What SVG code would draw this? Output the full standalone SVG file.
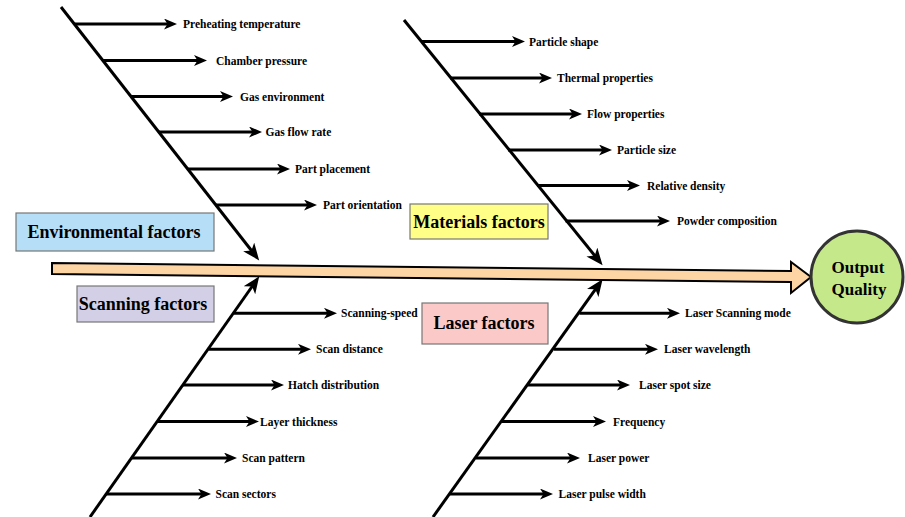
<svg xmlns="http://www.w3.org/2000/svg" width="905" height="517" viewBox="0 0 905 517">
<defs>
<marker id="ah" markerUnits="userSpaceOnUse" markerWidth="14" markerHeight="12" refX="5" refY="5.5" orient="auto">
<path d="M0,0 L13,5.5 L0,11 L3.5,5.5 z" fill="#000"/>
</marker>
<marker id="ahb" markerUnits="userSpaceOnUse" markerWidth="18" markerHeight="14" refX="7" refY="7" orient="auto">
<path d="M0,0 L17,7 L0,14 L4.5,7 z" fill="#000"/>
</marker>
</defs>
<style>
.sub{stroke:#000;stroke-width:3;fill:none;marker-end:url(#ah)}
.bone{stroke:#000;stroke-width:3;fill:none;marker-end:url(#ahb)}
.lbl{font-family:"Liberation Serif","Times New Roman",serif;font-weight:bold;font-size:11.5px;fill:#000}
.cat{font-family:"Liberation Serif","Times New Roman",serif;font-weight:bold;font-size:18px;fill:#000;text-anchor:middle}
.out{font-family:"Liberation Serif","Times New Roman",serif;font-weight:bold;font-size:17px;fill:#000;text-anchor:middle}
.box{stroke:#777;stroke-width:1.2}
</style>
<rect width="905" height="517" fill="#fff"/>

<g id="spine">
<path d="M52,263 L791,271 L791,262 L811,277 L791,293 L791,282 L52,274 Z" fill="#fdd5a5" stroke="#000" stroke-width="2" stroke-linejoin="miter"/>
</g>

<g id="output">
<circle cx="857" cy="277" r="46" fill="#c5e88a" stroke="#333" stroke-width="3"/>
<text class="out" x="858" y="273">Output</text>
<text class="out" x="859" y="295">Quality</text>
</g>

<g id="connectors">
<line class="bone" x1="61" y1="7" x2="253" y2="252.5"/>
<line class="bone" x1="404" y1="20" x2="596.3" y2="257.5"/>
<line class="bone" x1="90" y1="517" x2="253.5" y2="284.5"/>
<line class="bone" x1="433" y1="517" x2="596.8" y2="287.3"/>

<line class="sub" x1="74.5" y1="24" x2="169" y2="24"/>
<line class="sub" x1="102.5" y1="60.5" x2="199" y2="60.5"/>
<line class="sub" x1="130.5" y1="96.5" x2="225" y2="96.5"/>
<line class="sub" x1="158.5" y1="132" x2="254" y2="132"/>
<line class="sub" x1="187.5" y1="169" x2="282" y2="169"/>
<line class="sub" x1="215.5" y1="205" x2="309" y2="205"/>

<line class="sub" x1="421" y1="41.5" x2="517" y2="41.5"/>
<line class="sub" x1="450" y1="78" x2="544" y2="78"/>
<line class="sub" x1="479" y1="114" x2="574" y2="114"/>
<line class="sub" x1="508" y1="150" x2="604" y2="150"/>
<line class="sub" x1="537" y1="185.5" x2="632" y2="185.5"/>
<line class="sub" x1="565.5" y1="221" x2="662" y2="221"/>

<line class="sub" x1="234" y1="313.3" x2="329" y2="313.3"/>
<line class="sub" x1="208.5" y1="349.3" x2="303" y2="349.3"/>
<line class="sub" x1="183" y1="385" x2="276" y2="385"/>
<line class="sub" x1="157.5" y1="421.5" x2="251" y2="421.5"/>
<line class="sub" x1="131.5" y1="458" x2="229" y2="458"/>
<line class="sub" x1="106" y1="494" x2="203" y2="494"/>

<line class="sub" x1="579.5" y1="313.3" x2="672" y2="313.3"/>
<line class="sub" x1="554" y1="349.3" x2="650" y2="349.3"/>
<line class="sub" x1="528" y1="385" x2="622" y2="385"/>
<line class="sub" x1="502" y1="421.5" x2="598" y2="421.5"/>
<line class="sub" x1="476" y1="458" x2="572" y2="458"/>
<line class="sub" x1="450" y1="494" x2="545" y2="494"/>
</g>

<g id="environmental">
<rect class="box" x="16" y="213" width="198" height="38" fill="#b6def6"/>
<text class="cat" x="114" y="238">Environmental factors</text>
<text class="lbl" x="183" y="28">Preheating temperature</text>
<text class="lbl" x="216" y="64.5">Chamber pressure</text>
<text class="lbl" x="240" y="100.5">Gas environment</text>
<text class="lbl" x="265.5" y="136">Gas flow rate</text>
<text class="lbl" x="295" y="173">Part placement</text>
<text class="lbl" x="323" y="209">Part orientation</text>
</g>

<g id="materials">
<rect class="box" x="410" y="204" width="138" height="35" fill="#ffff88"/>
<text class="cat" x="479" y="227.5">Materials factors</text>
<text class="lbl" x="529" y="45.5">Particle shape</text>
<text class="lbl" x="557" y="82">Thermal properties</text>
<text class="lbl" x="587" y="118">Flow properties</text>
<text class="lbl" x="617" y="154">Particle size</text>
<text class="lbl" x="647" y="189.5">Relative density</text>
<text class="lbl" x="677" y="225">Powder composition</text>
</g>

<g id="scanning">
<rect class="box" x="77" y="286" width="137" height="36" fill="#d2cfe6"/>
<text class="cat" x="143" y="310">Scanning factors</text>
<text class="lbl" x="341" y="317.3">Scanning-speed</text>
<text class="lbl" x="316" y="353.3">Scan distance</text>
<text class="lbl" x="288" y="389">Hatch distribution</text>
<text class="lbl" x="260" y="425.5">Layer thickness</text>
<text class="lbl" x="242" y="462">Scan pattern</text>
<text class="lbl" x="215.5" y="498">Scan sectors</text>
</g>

<g id="laser">
<rect class="box" x="422" y="303" width="126" height="41" fill="#fcc9c9"/>
<text class="cat" x="484" y="328.5">Laser factors</text>
<text class="lbl" x="685" y="317.3">Laser Scanning mode</text>
<text class="lbl" x="664" y="353.3">Laser wavelength</text>
<text class="lbl" x="639" y="389">Laser spot size</text>
<text class="lbl" x="613" y="425.5">Frequency</text>
<text class="lbl" x="588" y="462">Laser power</text>
<text class="lbl" x="558.5" y="498">Laser pulse width</text>
</g>
</svg>
